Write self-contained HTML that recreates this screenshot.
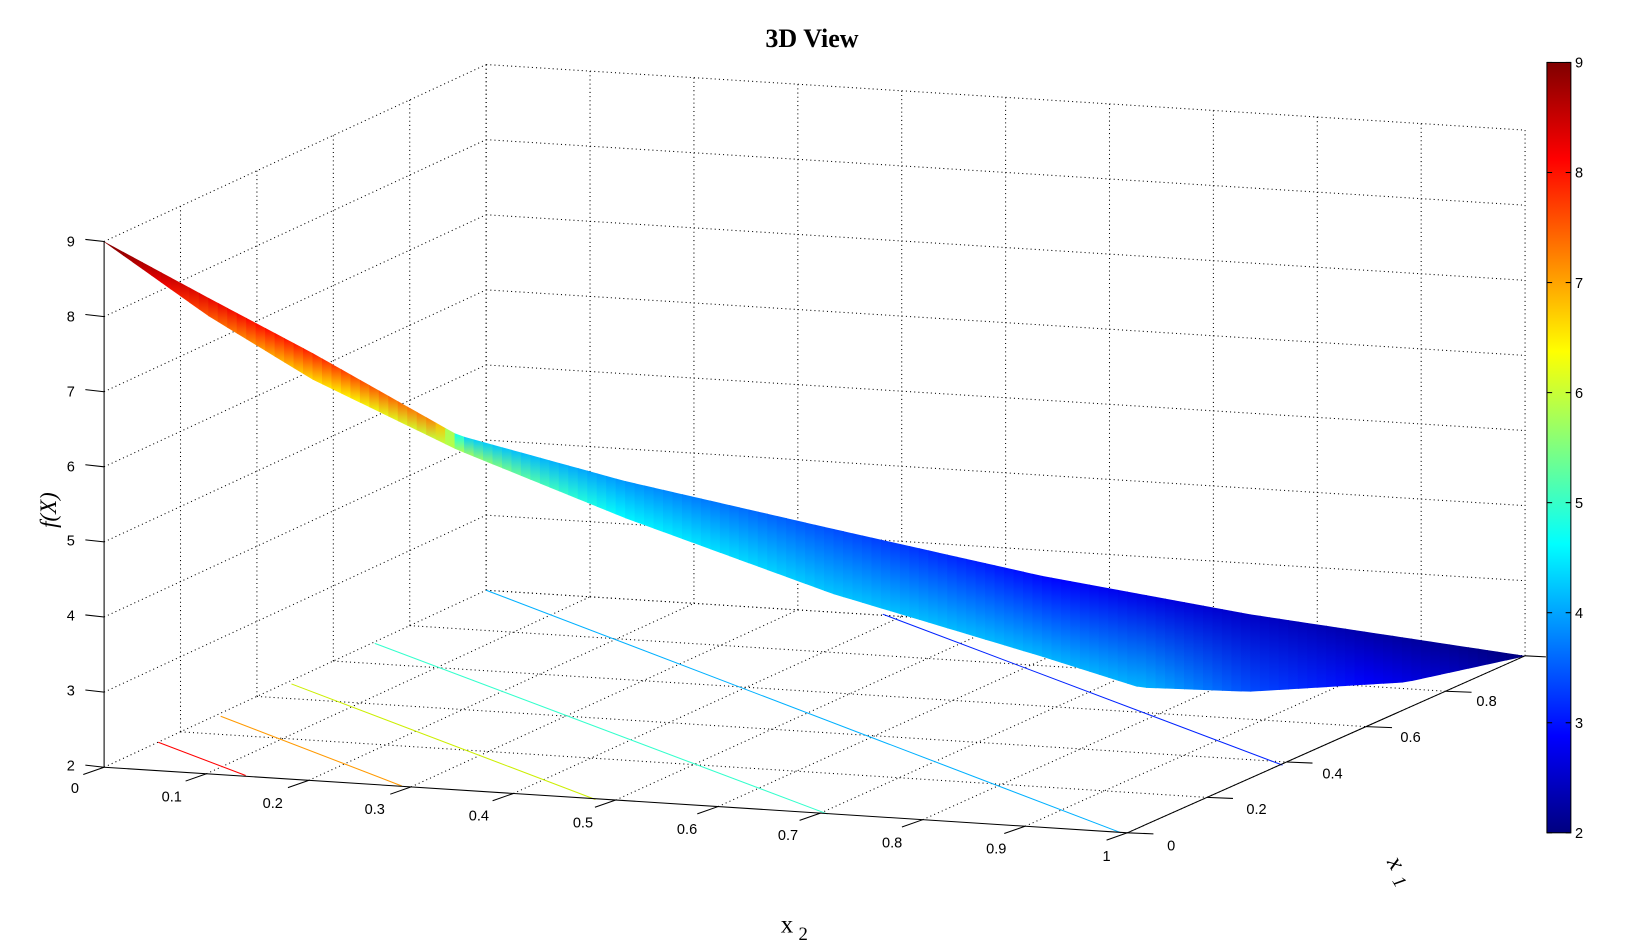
<!DOCTYPE html>
<html><head><meta charset="utf-8"><style>
html,body{margin:0;padding:0;background:#fff;}
svg{display:block;}
text{font-family:"Liberation Sans",Arial,sans-serif;font-size:14px;fill:#000;}
</style></head><body>
<svg id="s" width="1632" height="945" viewBox="0 0 1632 945" xmlns="http://www.w3.org/2000/svg">
<defs>
<linearGradient id="cb" x1="0" y1="1" x2="0" y2="0">
<stop offset="0" stop-color="#000080"/><stop offset="0.125" stop-color="#0000ff"/>
<stop offset="0.375" stop-color="#00ffff"/><stop offset="0.625" stop-color="#ffff00"/>
<stop offset="0.875" stop-color="#ff0000"/><stop offset="1" stop-color="#800000"/>
</linearGradient>
</defs>
<g id="g" transform="scale(1.041)"></g>
</svg>
<script>
(function(){
var g=document.getElementById('g'),defs=document.querySelector('defs');
var NS="http://www.w3.org/2000/svg";
function el(t,a,p,txt){var e=document.createElementNS(NS,t);for(var k in a)e.setAttribute(k,a[k]);if(txt!==undefined)e.textContent=txt;(p||g).appendChild(e);return e;}
function L(x1,y1,x2,y2,st,dash,w){el('line',{x1:x1,y1:y1,x2:x2,y2:y2,stroke:st||'#000','stroke-width':w||1,'stroke-dasharray':dash||'none'});}
var D='1,3';
var P00=[100,737],P10=[1083,800],P11=[1465,630],P01=[467,567],H=505;
function bl(u,v){
 var a=[P00[0]+(P10[0]-P00[0])*u,P00[1]+(P10[1]-P00[1])*u];
 var b=[P01[0]+(P11[0]-P01[0])*u,P01[1]+(P11[1]-P01[1])*u];
 return [a[0]+(b[0]-a[0])*v,a[1]+(b[1]-a[1])*v];}
for(var i=0;i<=10;i++){var p=bl(i/10,1);L(p[0],p[1],p[0],p[1]-H,'#000',D);}
for(var z=0;z<=7;z++){var dz=z*H/7;L(P01[0],P01[1]-dz,P11[0],P11[1]-dz,'#000',D);
 L(P00[0],P00[1]-dz,P01[0],P01[1]-dz,'#000',D);}
for(var j=1;j<=5;j++){var p=bl(0,j*0.2);L(p[0],p[1],p[0],p[1]-H,'#000',D);}
for(var i=1;i<=10;i++){var a=bl(i/10,0),b=bl(i/10,1);L(a[0],a[1],b[0],b[1],'#000',D);}
for(var j=1;j<=5;j++){var a=bl(0,j*0.2),b=bl(1,j*0.2);L(a[0],a[1],b[0],b[1],'#000',D);}
var cl=[['#ff0000',152,713,236,745],['#ff9900',212,688,386,755],['#ccee00',280,657,572,768],['#33ffcc',360,618,795,782],['#00b0ff',467,567,1077,800],['#0022ff',848,590,1232,735]];
cl.forEach(function(c){L(c[1],c[2],c[3],c[4],c[0]);});
function jet(t){t=Math.max(0,Math.min(1,t));function f(x){return Math.max(0,Math.min(1,1.5-Math.abs(x)));}
 var r=f(4*t-3),gg=f(4*t-2),b=f(4*t-1);return 'rgb('+Math.round(r*255)+','+Math.round(gg*255)+','+Math.round(b*255)+')';}
function interp(pts,x){for(var i=0;i<pts.length-1;i++){if(x<=pts[i+1][0]){var t=(x-pts[i][0])/(pts[i+1][0]-pts[i][0]);return pts[i][1]+(pts[i+1][1]-pts[i][1])*t;}}return pts[pts.length-1][1];}
var topc=[[100,232],[200,286],[300,339],[440,418],[600,462],[800,508],[1000,553],[1200,590],[1465,630]];
var botc=[[100,232],[200,303],[300,364],[440,432],[600,497],[800,570],[1000,630],[1095,660],[1200,664],[1350,655],[1465,630]];
var tc=[[100,1],[200,0.9],[300,0.85],[420,0.75],[445,0.33],[600,0.27],[800,0.2],[1000,0.13],[1200,0.07],[1465,0]];
var bc=[[100,1],[200,0.78],[300,0.65],[440,0.55],[520,0.45],[600,0.37],[800,0.32],[1100,0.3],[1200,0.2],[1350,0.1],[1465,0]];
var N=150;
for(var i=0;i<N;i++){var xa=100+1365*i/N,xb=Math.min(1465,100+1365*(i+1)/N+0.8);
 var id='sg'+i;var lg=el('linearGradient',{id:id,x1:0,y1:0,x2:0,y2:1},defs);
 el('stop',{offset:0,'stop-color':jet(interp(tc,(xa+xb)/2))},lg);
 el('stop',{offset:1,'stop-color':jet(interp(bc,(xa+xb)/2))},lg);
 var pts=[xa,interp(topc,xa),xb,interp(topc,xb),xb,interp(botc,xb)+0.5,xa,interp(botc,xa)+0.5];
 el('polygon',{points:pts.join(','),fill:'url(#'+id+')'});}
L(100,232,100,737);L(P00[0],P00[1],P10[0],P10[1]);L(P10[0],P10[1],P11[0],P11[1]);
L(1465,630,1485,631);
var zl=[232,304,376,448,519,591,663,735];
for(var z=0;z<8;z++){var y=P00[1]-(7-z)*H/7;L(82,y-2,100,y);el('text',{x:68,y:zl[z]+5,'text-anchor':'middle'},null,String(9-z));}
var xl=[[72,757],[165,765],[262,771],[360,777],[460,783],[560,790],[660,796],[757,802],[857,809],[957,815],[1063,822]];
for(var i=0;i<=10;i++){var p=bl(i/10,0);L(p[0],p[1],p[0]-20,p[1]+7);
 el('text',{x:xl[i][0],y:xl[i][1]+5,'text-anchor':'middle'},null,i==0?'0':i==10?'1':'0.'+i);}
var yl=[[1125,812],[1207,777],[1280,743],[1355,708],[1428,673]];
for(var j=0;j<5;j++){var p=bl(1,j*0.2);L(p[0],p[1],p[0]+25,p[1]+1);
 el('text',{x:yl[j][0],y:yl[j][1]+5,'text-anchor':'middle'},null,j==0?'0':'0.'+(2*j));}
el('text',{x:780,y:45,'text-anchor':'middle',style:'font-family:"Liberation Serif",serif;font-weight:bold;font-size:25px'},null,'3D View');
el('text',{x:0,y:0,transform:'translate(54,490) rotate(-90)','text-anchor':'middle',style:'font-family:"Liberation Serif",serif;font-style:italic;font-size:22px'},null,'f(X)');
el('text',{x:750,y:896,style:'font-family:"Liberation Serif",serif;font-size:24px'},null,'x');
el('text',{x:767,y:903,style:'font-family:"Liberation Serif",serif;font-size:18px'},null,'2');
el('text',{x:0,y:0,transform:'translate(1332,828) rotate(60)',style:'font-family:"Liberation Serif",serif;font-style:italic;font-size:24px'},null,'x');
el('text',{x:0,y:0,transform:'translate(1337,846) rotate(60)',style:'font-family:"Liberation Serif",serif;font-style:italic;font-size:18px'},null,'1');
el('rect',{x:1486,y:60,width:23,height:740,fill:'url(#cb)',stroke:'#000','stroke-width':1});
for(var k=0;k<8;k++){var y=800-k*740/7;L(1486,y,1491,y);L(1504,y,1509,y);
 el('text',{x:1513,y:y+5},null,String(2+k));}
})();
</script>
</body></html>
